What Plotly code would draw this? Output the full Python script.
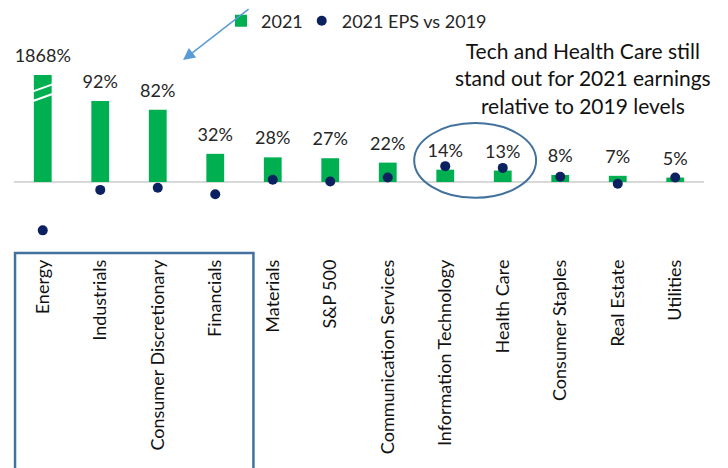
import plotly.graph_objects as go

categories = ["Energy", "Industrials", "Consumer Discretionary", "Financials", "Materials",
              "S&P 500", "Communication Services", "Information Technology", "Health Care",
              "Consumer Staples", "Real Estate", "Utilities"]
growth_2021 = [1868, 92, 82, 32, 28, 27, 22, 14, 13, 8, 7, 5]
eps_vs_2019 = [-55, -9, -6.5, -14, 2.5, 0.5, 5, 18, 16, 6, -2, 5]
labels = [f"{v}%" for v in growth_2021]

Y_MIN, Y_MAX = -83, 121.6
FONT = "Lato, Open Sans, sans-serif"
GREEN = "#00B050"
NAVY = "#0B2160"

label_y = [min(v, Y_MAX) for v in growth_2021]

fig = go.Figure()
fig.add_trace(go.Bar(x=categories, y=growth_2021, name="2021", marker_color=GREEN,
                     marker_line_width=0, legend="legend"))
fig.add_trace(go.Scatter(x=categories, y=eps_vs_2019, name="2021 EPS vs 2019", mode="markers",
                         marker=dict(color=NAVY, size=10), legend="legend2"))
fig.add_trace(go.Scatter(x=categories, y=label_y, mode="markers+text", text=labels,
                         marker=dict(size=12, color="rgba(0,0,0,0)"),
                         textposition="top center", showlegend=False, cliponaxis=False,
                         textfont=dict(size=18, color="#262626", family=FONT), hoverinfo="skip"))

# axis break marks on Energy bar
for y0, y1 in [(103, 111), (92, 100)]:
    fig.add_shape(type="line", xref="x", yref="y", x0=-0.17, x1=0.17, y0=y0, y1=y1,
                  line=dict(color="white", width=2))

# ellipse around Tech and Health Care
fig.add_shape(type="circle", xref="x", yref="y", x0=6.46, x1=8.58, y0=-18, y1=67,
              line=dict(color="#41719C", width=2))

# box around first four labels
fig.add_shape(type="rect", xref="paper", yref="paper", x0=0.0015, x1=0.347, y0=0.011, y1=-1.2,
              line=dict(color="#41719C", width=2.5))

fig.add_annotation(xref="paper", yref="paper", x=0.245, y=1.083, ax=67, ay=-62,
                   showarrow=True, arrowhead=2, arrowsize=1.6, arrowwidth=1.5,
                   arrowcolor="#5B9BD5", text="")

fig.add_annotation(xref="paper", yref="paper", x=0.825, y=0.982, xanchor="center",
                   yanchor="middle", showarrow=False,
                   text="Tech and Health Care still<br>stand out for 2021 earnings<br>relative to 2019 levels",
                   font=dict(size=21, color="#111111", family=FONT), align="center")

legend_common = dict(orientation="h", xref="paper", yref="container", xanchor="left",
                     yanchor="middle", itemwidth=30, bgcolor="rgba(0,0,0,0)",
                     font=dict(size=18, color="#262626", family=FONT))

fig.update_layout(
    width=720, height=460,
    margin=dict(l=6, r=24, t=67, b=213, autoexpand=False),
    paper_bgcolor="white", plot_bgcolor="white",
    bargap=0.69,
    font=dict(family=FONT, color="#262626"),
    legend=dict(x=0.30, y=0.9717, **legend_common),
    legend2=dict(x=0.417, y=0.9717, **legend_common),
    xaxis=dict(range=[-0.5, 11.5], tickangle=-90, showgrid=False, showline=False, ticks="",
               automargin=False, tickfont=dict(size=18, color="#111111", family=FONT)),
    yaxis=dict(range=[Y_MIN, Y_MAX], showgrid=False, showticklabels=False, zeroline=True,
               automargin=False, zerolinecolor="#D9D9D9", zerolinewidth=2),
    showlegend=True,
)

fig.write_html("out.html")
